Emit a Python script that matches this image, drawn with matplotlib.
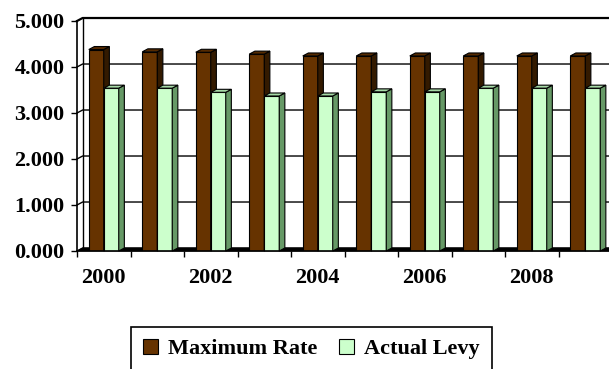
import matplotlib.pyplot as plt
import numpy as np
from matplotlib.patches import Polygon

years = list(range(2000, 2010))
max_rate = [4.38, 4.33, 4.32, 4.28, 4.24, 4.24, 4.24, 4.24, 4.24, 4.24]
actual_levy = [3.54, 3.54, 3.45, 3.37, 3.37, 3.46, 3.46, 3.54, 3.54, 3.54]
y_ticks = [0, 1, 2, 3, 4, 5]

plt.rcParams["font.family"] = ["Liberation Serif", "DejaVu Serif"]
plt.rcParams["font.weight"] = "bold"
FS = 16

# pseudo-3d depth of bars and walls, in data units
DX, DY = 0.105, 0.065
BAR_W = 0.28


def add_depth(ax, bars, side_col, top_col, z):
    for b in bars:
        x0, y0 = b.get_x(), b.get_y()
        x1, y1 = x0 + b.get_width(), y0 + b.get_height()
        side = Polygon([(x1, y0), (x1 + DX, y0 + DY), (x1 + DX, y1 + DY), (x1, y1)],
                       fc=side_col, ec="black", lw=0.8, zorder=z, clip_on=False)
        top = Polygon([(x0, y1), (x1, y1), (x1 + DX, y1 + DY), (x0 + DX, y1 + DY)],
                      fc=top_col, ec="black", lw=0.8, zorder=z, clip_on=False)
        ax.add_patch(side)
        ax.add_patch(top)


fig = plt.figure(figsize=(6.09, 3.69), dpi=100)
ax = fig.add_axes([77 / 609, 118 / 369, 535 / 609, 230 / 369])

x = np.arange(len(years))
x_end = len(years) - 0.5

# back wall, side wall and floor
for k in y_ticks:
    lw = 1.6 if k == y_ticks[-1] else 1.0
    ax.plot([0 - 0.5, -0.5 + DX, x_end + DX], [k, k + DY, k + DY],
            color="black", lw=lw, zorder=1, clip_on=False)
ax.plot([-0.5 + DX, -0.5 + DX], [DY, y_ticks[-1] + DY], color="black", lw=1.0,
        zorder=1, clip_on=False)
ax.add_patch(Polygon([(-0.5, 0), (x_end, 0), (x_end + DX, DY), (-0.5 + DX, DY)],
                     fc="black", ec="black", lw=0.5, zorder=2, clip_on=False))

b1 = ax.bar(x - BAR_W / 2, max_rate, BAR_W, color="#663300", edgecolor="black",
            lw=0.8, zorder=3, label="Maximum Rate")
add_depth(ax, b1, "#331a00", "#552a00", 3)
b2 = ax.bar(x + BAR_W / 2, actual_levy, BAR_W, color="#ccffcc", edgecolor="black",
            lw=0.8, zorder=4, label="Actual Levy")
add_depth(ax, b2, "#669966", "#a6d9a6", 4)

ax.set_xlim(-0.5, x_end)
ax.set_ylim(0, 5)

for side in ["top", "right"]:
    ax.spines[side].set_visible(False)
for side in ["left", "bottom"]:
    ax.spines[side].set_linewidth(1.2)
    ax.spines[side].set_zorder(5)

ax.set_xticks(np.arange(-0.5, len(years), 1))
ax.set_xticklabels([])
ax.set_xticks(x[::2], minor=True)
ax.set_xticklabels([str(y) for y in years[::2]], minor=True)
ax.tick_params(axis="x", which="major", length=4.5, width=1.0, direction="out")
ax.tick_params(axis="x", which="minor", length=0, pad=12, labelsize=FS)

ax.set_yticks(y_ticks)
ax.set_yticklabels([f"{v:.3f}" for v in y_ticks])
ax.tick_params(axis="y", length=4.5, width=1.0, pad=4.5, labelsize=FS)

leg = fig.legend(handles=[b1, b2], loc="upper left",
                 bbox_to_anchor=(131 / 609, 1 - 327 / 369), borderaxespad=0,
                 ncol=2, fontsize=FS, handlelength=0.65, handleheight=0.65,
                 handletextpad=0.45, columnspacing=1.0, borderpad=0.55,
                 fancybox=False, framealpha=1, edgecolor="black")
leg.get_frame().set_linewidth(1.2)

fig.savefig("out.png", dpi=100)
